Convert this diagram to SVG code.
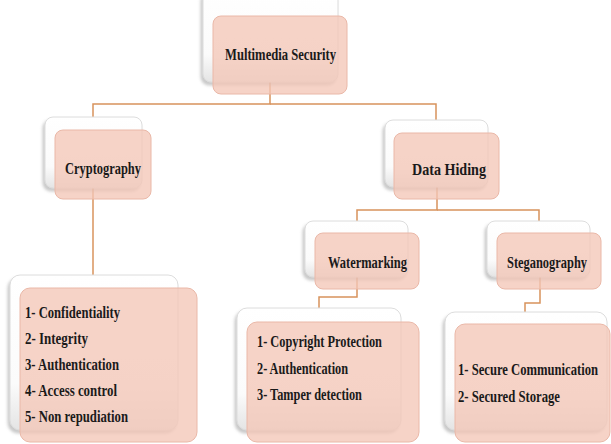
<svg xmlns="http://www.w3.org/2000/svg" width="611" height="444" viewBox="0 0 611 444">
<defs>
<linearGradient id="wg" x1="0" y1="0" x2="0" y2="1">
<stop offset="0" stop-color="#ffffff"/>
<stop offset="0.7" stop-color="#fbfbfb"/>
<stop offset="1" stop-color="#e4e4e4"/>
</linearGradient>
<filter id="sh" x="-20%" y="-20%" width="140%" height="140%">
<feDropShadow dx="-2" dy="3" stdDeviation="1.5" flood-color="#888" flood-opacity="0.45"/>
</filter>
</defs>
<style>
.back{fill:url(#wg);stroke:#dcdcdc;stroke-width:1;filter:url(#sh)}
.front{fill:#f3c6b7;fill-opacity:0.78;stroke:#eab8a8;stroke-width:1}
.conn{fill:none;stroke:#d8935c;stroke-width:1.5}
text{font-family:"Liberation Serif","Times New Roman",serif;font-weight:bold;font-size:17px;fill:#1a1a1a}
.l{font-size:16px}
</style>
<rect width="611" height="444" fill="#ffffff"/>
<g id="connectors">
<path class="conn" d="M270,82 V104 H93 V117"/>
<path class="conn" d="M270,104 H436 V120"/>
<path class="conn" d="M93,188 V275"/>
<path class="conn" d="M437,187 V210 H357 V221"/>
<path class="conn" d="M437,210 H539 V221"/>
<path class="conn" d="M357,277 V297 H319 V308"/>
<path class="conn" d="M540,277 V303 H525 V312"/>
</g>
<g id="multimedia-security">
<rect class="back" x="203" y="-10" width="135" height="92" rx="8"/>
<rect class="front" x="213" y="16" width="134" height="78" rx="8"/>
<text transform="translate(225,60) scale(0.82,1)" textLength="135.4" lengthAdjust="spacingAndGlyphs">Multimedia Security</text>
</g>
<g id="cryptography">
<rect class="back" x="45" y="117" width="97" height="71" rx="8"/>
<rect class="front" x="55" y="130" width="96" height="69" rx="8"/>
<text transform="translate(65,174) scale(0.82,1)" textLength="92.7" lengthAdjust="spacingAndGlyphs">Cryptography</text>
</g>
<g id="data-hiding">
<rect class="back" x="385" y="120" width="103" height="67" rx="8"/>
<rect class="front" x="394" y="133" width="105" height="66" rx="8"/>
<text transform="translate(412,175) scale(0.82,1)" textLength="90.2" lengthAdjust="spacingAndGlyphs">Data Hiding</text>
</g>
<g id="watermarking">
<rect class="back" x="305" y="221" width="103" height="56" rx="8"/>
<rect class="front" x="315" y="233" width="104" height="56" rx="8"/>
<text transform="translate(328,268) scale(0.82,1)" textLength="96.3" lengthAdjust="spacingAndGlyphs">Watermarking</text>
</g>
<g id="steganography">
<rect class="back" x="487" y="221" width="103" height="56" rx="8"/>
<rect class="front" x="497" y="233" width="104" height="56" rx="8"/>
<text transform="translate(507,268) scale(0.82,1)" textLength="97.6" lengthAdjust="spacingAndGlyphs">Steganography</text>
</g>
<g id="crypto-list">
<rect class="back" x="10" y="275" width="168" height="155" rx="10"/>
<rect class="front" x="20" y="288" width="177" height="154" rx="10"/>
<text class="l" transform="translate(25,318) scale(0.82,1)" textLength="115.9" lengthAdjust="spacingAndGlyphs">1- Confidentiality</text>
<text class="l" transform="translate(25,344) scale(0.82,1)" textLength="76.8" lengthAdjust="spacingAndGlyphs">2- Integrity</text>
<text class="l" transform="translate(25,370) scale(0.82,1)" textLength="114.6" lengthAdjust="spacingAndGlyphs">3- Authentication</text>
<text class="l" transform="translate(25,396) scale(0.82,1)" textLength="112.2" lengthAdjust="spacingAndGlyphs">4- Access control</text>
<text class="l" transform="translate(25,422) scale(0.82,1)" textLength="125.6" lengthAdjust="spacingAndGlyphs">5- Non repudiation</text>
</g>
<g id="watermarking-list">
<rect class="back" x="237" y="308" width="164" height="122" rx="10"/>
<rect class="front" x="247" y="322" width="172" height="120" rx="10"/>
<text class="l" transform="translate(257,347) scale(0.82,1)" textLength="152.4" lengthAdjust="spacingAndGlyphs">1- Copyright Protection</text>
<text class="l" transform="translate(257,374) scale(0.82,1)" textLength="111" lengthAdjust="spacingAndGlyphs">2- Authentication</text>
<text class="l" transform="translate(257,400) scale(0.82,1)" textLength="128" lengthAdjust="spacingAndGlyphs">3- Tamper detection</text>
</g>
<g id="steganography-list">
<rect class="back" x="445" y="312" width="162" height="118" rx="10"/>
<rect class="front" x="455" y="324" width="155" height="118" rx="10"/>
<text class="l" transform="translate(458,375) scale(0.82,1)" textLength="170.7" lengthAdjust="spacingAndGlyphs">1- Secure Communication</text>
<text class="l" transform="translate(458,402) scale(0.82,1)" textLength="124.4" lengthAdjust="spacingAndGlyphs">2- Secured Storage</text>
</g>
</svg>
